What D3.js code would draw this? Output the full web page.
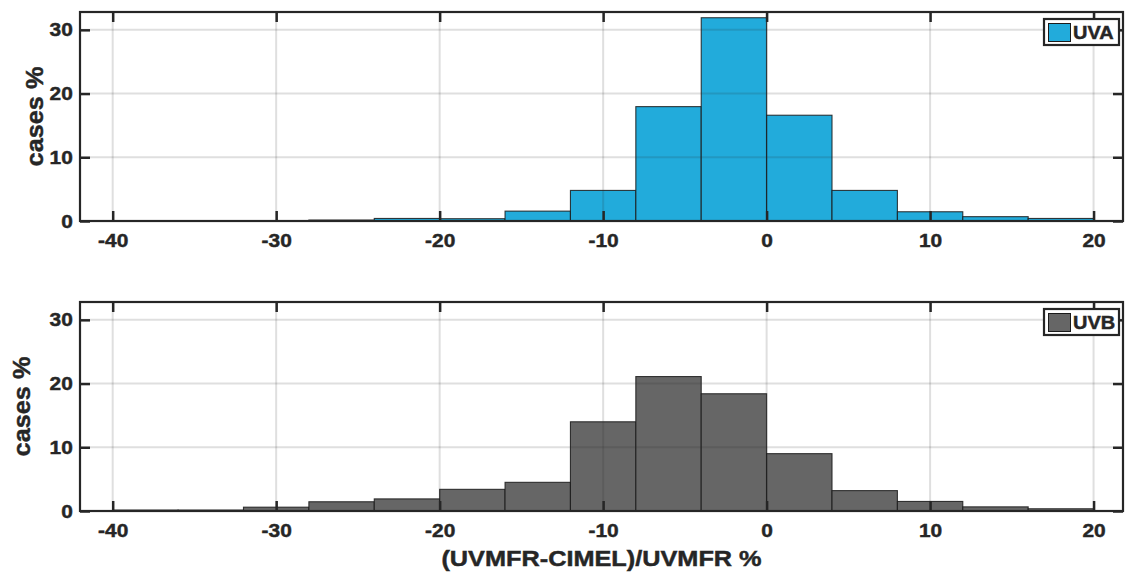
<!DOCTYPE html>
<html>
<head>
<meta charset="utf-8">
<script src="https://cdn.jsdelivr.net/npm/d3@7"></script>
<style>
  html, body { margin: 0; padding: 0; background: #fff; }
  svg { display: block; }
  text { font-family: "Liberation Sans", Arial, Helvetica, sans-serif; font-weight: bold; fill: #262626; stroke: #262626; stroke-width: 0.45px; }
</style>
</head>
<body>
<svg id="chart" width="1126" height="572"></svg>
<script>
// Histogram bin edges (4 % wide) for the relative difference
const binEdges = [-40, -36, -32, -28, -24, -20, -16, -12, -8, -4, 0, 4, 8, 12, 16, 20];

// Share of cases (%) in each bin
const uvaValues = [0, 0, 0, 0.15, 0.4, 0.36, 1.55, 4.8, 17.95, 31.9, 16.6, 4.8, 1.45, 0.68, 0.4];
const uvbValues = [0.15, 0.15, 0.6, 1.45, 1.9, 3.4, 4.5, 14.0, 21.1, 18.4, 9.0, 3.2, 1.5, 0.65, 0.35];

const xTicks = [-40, -30, -20, -10, 0, 10, 20];
const yTicks = [0, 10, 20, 30];

const xLabel = "(UVMFR-CIMEL)/UVMFR %";
const yLabel = "cases %";

const svg = d3.select("#chart");
const left = 80, right = 1123;
const x = d3.scaleLinear().domain([-42, 21.8]).range([left, right]);

const panels = [
  { name: "UVA", values: uvaValues, color: "#22abdb", top: 12, bottom: 221, ylabX: 43 },
  { name: "UVB", values: uvbValues, color: "#666666", top: 302, bottom: 511, ylabX: 30 }
];

const ink = "#262626";
const stretch = 1.1; // slightly wide lettering

panels.forEach(p => {
  const y = d3.scaleLinear().domain([0, 32.8]).range([p.bottom, p.top]);
  const g = svg.append("g");

  // bars
  const bins = p.values.map((v, i) => ({ x0: binEdges[i], x1: binEdges[i + 1], v }));
  g.append("g").selectAll("rect").data(bins).join("rect")
    .attr("x", d => x(d.x0))
    .attr("y", d => y(d.v))
    .attr("width", d => x(d.x1) - x(d.x0))
    .attr("height", d => y(0) - y(d.v))
    .attr("fill", p.color)
    .attr("stroke", "#1a1a1a")
    .attr("stroke-opacity", 0.85)
    .attr("stroke-width", 1.1);

  // grid, drawn over the bars
  const grid = g.append("g").attr("stroke", ink).attr("stroke-opacity", 0.15).attr("stroke-width", 2);
  grid.selectAll("line.gx").data(xTicks).join("line")
    .attr("x1", d => x(d)).attr("x2", d => x(d))
    .attr("y1", p.top).attr("y2", p.bottom);
  grid.selectAll("line.gy").data(yTicks.filter(t => t > 0)).join("line")
    .attr("x1", left).attr("x2", right)
    .attr("y1", d => y(d)).attr("y2", d => y(d));

  // axes with inward ticks
  const styleAxis = sel => {
    sel.select(".domain").remove();
    sel.selectAll(".tick line").attr("stroke", ink).attr("stroke-width", 2.5);
    sel.selectAll(".tick text")
      .attr("font-size", 19)
      .attr("fill", ink)
      .attr("transform", `scale(${stretch},1)`);
  };
  const fmt = d => String(d);
  g.append("g").attr("transform", `translate(0,${p.bottom})`)
    .call(d3.axisBottom(x).tickValues(xTicks).tickSize(-10).tickPadding(12.5).tickFormat(fmt))
    .call(styleAxis);
  g.append("g").attr("transform", `translate(0,${p.top})`)
    .call(d3.axisTop(x).tickValues(xTicks).tickSize(-10).tickFormat(""))
    .call(styleAxis);
  g.append("g").attr("transform", `translate(${left},0)`)
    .call(d3.axisLeft(y).tickValues(yTicks).tickSize(-10).tickPadding(6.5).tickFormat(fmt))
    .call(styleAxis);
  g.append("g").attr("transform", `translate(${right},0)`)
    .call(d3.axisRight(y).tickValues(yTicks).tickSize(-10).tickFormat(""))
    .call(styleAxis);

  // box
  g.append("rect")
    .attr("x", left).attr("y", p.top)
    .attr("width", right - left).attr("height", p.bottom - p.top)
    .attr("fill", "none").attr("stroke", ink).attr("stroke-width", 2.2);

  // y label
  g.append("text")
    .attr("transform", `translate(${p.ylabX},${(p.top + p.bottom) / 2}) rotate(-90) scale(${stretch},1)`)
    .attr("text-anchor", "middle")
    .attr("font-size", 23)
    .text(yLabel);

  // legend
  const lg = g.append("g").attr("transform", `translate(1044,${p.top + 7})`);
  lg.append("rect").attr("x", 0).attr("y", 0).attr("width", 75).attr("height", 26)
    .attr("fill", "#fff").attr("stroke", ink).attr("stroke-width", 2.2);
  lg.append("rect").attr("x", 4.5).attr("y", 4.5).attr("width", 22).attr("height", 18)
    .attr("fill", p.color).attr("stroke", "#1a1a1a").attr("stroke-width", 1);
  lg.append("text").attr("transform", "translate(29,20) scale(1.05,1)")
    .attr("font-size", 19).text(p.name);
});

// x label
svg.append("text")
  .attr("transform", `translate(${(left + right) / 2},566) scale(1.15,1)`)
  .attr("text-anchor", "middle")
  .attr("font-size", 22)
  .text(xLabel);
</script>
</body>
</html>
